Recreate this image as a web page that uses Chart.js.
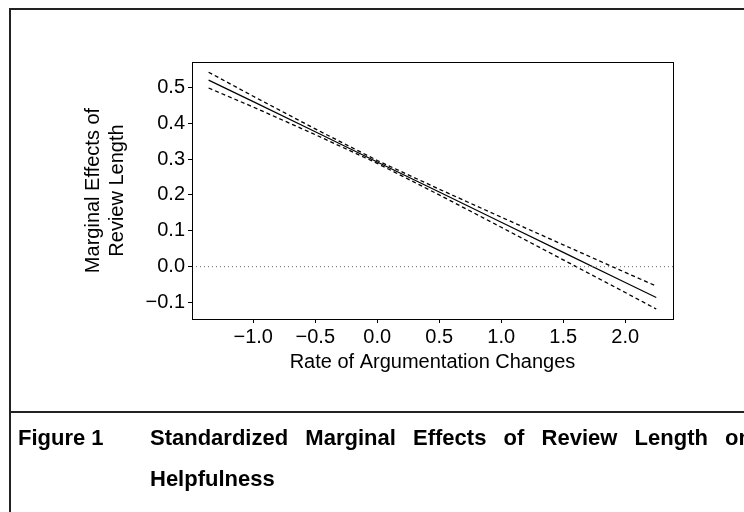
<!DOCTYPE html>
<html>
<head>
<meta charset="utf-8">
<script src="https://cdn.jsdelivr.net/npm/chart.js@4.4.1/dist/chart.umd.min.js"></script>
<style>
  html, body { margin: 0; padding: 0; background: #fff; width: 744px; height: 512px; overflow: hidden; }
  #wrap { position: absolute; left: 0; top: 0; width: 744px; height: 412px; }
  #frame { position: absolute; left: 9px; top: 8px; width: 800px; height: 600px;
           border-left: 2px solid #222; border-top: 2px solid #222; }
  #sep { position: absolute; left: 9px; top: 411px; width: 800px; height: 2px; background: #222; }
  .cap { position: absolute; font-family: "Liberation Sans", Arial, sans-serif; font-weight: bold;
         font-size: 22px; line-height: 41px; color: #000; }
  #figno { left: 18px; top: 417px; }
  #captext { left: 150px; top: 417px; width: 602px; text-align: justify; }
</style>
</head>
<body>
<div id="wrap"><canvas id="chart-me" width="744" height="412"></canvas></div>
<div id="frame"></div>
<div id="sep"></div>
<div class="cap" id="figno">Figure 1</div>
<div class="cap" id="captext">Standardized Marginal Effects of Review Length on Helpfulness</div>
<script>
/* ---- Data ---- */
const rateValues = [-1.36, -1.0, -0.5, 0.0, 0.5, 1.0, 1.5, 2.0, 2.25];
const marginalEffect = [0.520, 0.460, 0.376, 0.292, 0.208, 0.124, 0.040, -0.044, -0.086];
const upperBound = [0.542, 0.475, 0.384, 0.296, 0.216, 0.138, 0.061, -0.016, -0.054];
const lowerBound = [0.498, 0.445, 0.368, 0.288, 0.200, 0.110, 0.019, -0.072, -0.118];
const xTicks = [-1.0, -0.5, 0.0, 0.5, 1.0, 1.5, 2.0];
const yTicks = [-0.1, 0.0, 0.1, 0.2, 0.3, 0.4, 0.5];
const xLimits = [-1.494, 2.385];
const yLimits = [-0.1458, 0.5705];

function toPoints(ys) {
  return rateValues.map((x, i) => ({ x, y: ys[i] }));
}

function fmt(v) {
  return Number(v).toFixed(1).replace('-', '\u2212');
}

/* draws the full plot box like R's box() */
const boxPlugin = {
  id: 'plotBox',
  afterDatasetsDraw(chart) {
    const a = chart.chartArea;
    const ctx = chart.ctx;
    ctx.save();
    ctx.strokeStyle = '#000';
    ctx.lineWidth = 1;
    ctx.strokeRect(Math.round(a.left) + 0.5, Math.round(a.top) + 0.5,
      Math.round(a.right - a.left), Math.round(a.bottom - a.top));
    ctx.restore();
  },
};

Chart.defaults.font.family = '"Liberation Sans", Arial, sans-serif';
Chart.defaults.font.size = 20;
Chart.defaults.color = '#000';

new Chart(document.getElementById('chart-me'), {
  type: 'line',
  data: {
    datasets: [
      {
        label: 'zero',
        data: [{ x: xLimits[0], y: 0 }, { x: xLimits[1], y: 0 }],
        borderColor: '#666',
        borderWidth: 1,
        borderDash: [1, 3],
        pointRadius: 0,
      },
      {
        label: 'upper',
        data: toPoints(upperBound),
        borderColor: '#000',
        borderWidth: 1.3,
        borderDash: [4, 3],
        pointRadius: 0,
      },
      {
        label: 'lower',
        data: toPoints(lowerBound),
        borderColor: '#000',
        borderWidth: 1.3,
        borderDash: [4, 3],
        pointRadius: 0,
      },
      {
        label: 'effect',
        data: toPoints(marginalEffect),
        borderColor: '#000',
        borderWidth: 1.2,
        pointRadius: 0,
      },
    ],
  },
  options: {
    responsive: false,
    animation: false,
    layout: { padding: { top: 62, right: 71, left: 0, bottom: 0 } },
    plugins: { legend: { display: false }, tooltip: { enabled: false } },
    scales: {
      x: {
        type: 'linear',
        min: xLimits[0],
        max: xLimits[1],
        afterBuildTicks: s => { s.ticks = xTicks.map(v => ({ value: v })); },
        afterFit: s => { s.height = 93; },
        ticks: { callback: v => fmt(v), padding: 2, maxRotation: 0, autoSkip: false },
        grid: { drawOnChartArea: false, drawTicks: true, tickLength: 4, color: '#000' },
        border: { display: false },
        title: {
          display: true,
          text: 'Rate of Argumentation Changes',
          font: { size: 20, lineHeight: 1.2 },
          padding: { top: 0, bottom: 38 },
        },
      },
      y: {
        type: 'linear',
        min: yLimits[0],
        max: yLimits[1],
        afterBuildTicks: s => { s.ticks = yTicks.map(v => ({ value: v })); },
        afterFit: s => { s.width = 192; },
        ticks: { callback: v => fmt(v), padding: 3, autoSkip: false },
        grid: { drawOnChartArea: false, drawTicks: true, tickLength: 4, color: '#000' },
        border: { display: false },
        title: {
          display: true,
          text: ['Marginal Effects of', 'Review Length'],
          font: { size: 20, lineHeight: 1.2 },
          padding: { top: 81, bottom: 0 },
        },
      },
    },
  },
  plugins: [boxPlugin],
});
</script>
</body>
</html>
